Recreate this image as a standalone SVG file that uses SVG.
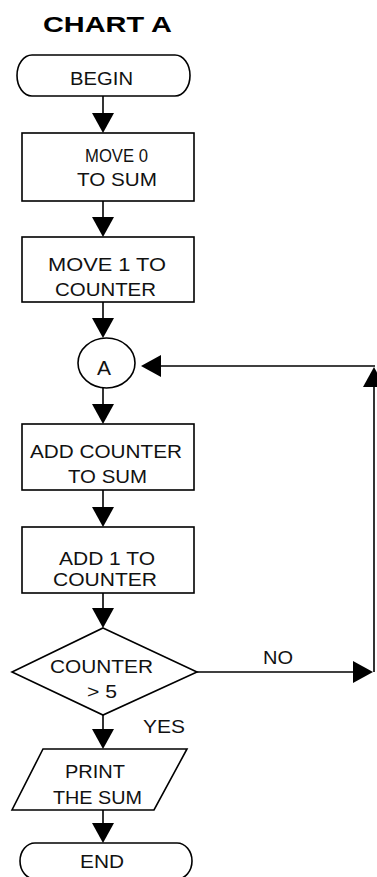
<svg xmlns="http://www.w3.org/2000/svg" width="377" height="877" viewBox="0 0 377 877">
<style>
.s{fill:#fff;stroke:#000;stroke-width:1.6}
.t{font-family:"Liberation Sans",Arial,sans-serif;font-size:19px;fill:#111}
.title{font-family:"Liberation Sans",Arial,sans-serif;font-size:22px;font-weight:bold;fill:#000}
.c{fill:none;stroke:#000;stroke-width:1.6}
</style>
<defs>
<marker id="ah" markerUnits="userSpaceOnUse" markerWidth="20" markerHeight="22" refX="17" refY="11" orient="auto">
<path d="M0,0 L20,11 L0,22 Z" fill="#000"/>
</marker>
</defs>
<rect width="377" height="877" fill="#fff"/>
<text class="title" x="43" y="32" textLength="129" lengthAdjust="spacingAndGlyphs">CHART A</text>
<g id="connectors">
<path class="c" d="M103,96 V130" marker-end="url(#ah)"/>
<path class="c" d="M103,201 V234" marker-end="url(#ah)"/>
<path class="c" d="M103,302 V335" marker-end="url(#ah)"/>
<path class="c" d="M103,388 V421" marker-end="url(#ah)"/>
<path class="c" d="M103,490 V524" marker-end="url(#ah)"/>
<path class="c" d="M103,593 V625" marker-end="url(#ah)"/>
<path class="c" d="M103,715 V746" marker-end="url(#ah)"/>
<path class="c" d="M103,810 V840" marker-end="url(#ah)"/>
<path class="c" d="M197,672 H370" marker-end="url(#ah)"/>
<path class="c" d="M374,672 V370" marker-end="url(#ah)"/>
<path class="c" d="M375,366 H144" marker-end="url(#ah)"/>
<text class="t" x="263" y="664" textLength="30" lengthAdjust="spacingAndGlyphs">NO</text>
<text class="t" x="143" y="733" textLength="42" lengthAdjust="spacingAndGlyphs">YES</text>
</g>
<g id="begin">
<path class="s" d="M32,55 H175 A15,20.5 0 0 1 175,96 H32 A15,20.5 0 0 1 32,55 Z"/>
<text class="t" x="70" y="85" textLength="63" lengthAdjust="spacingAndGlyphs">BEGIN</text>
</g>
<g id="move0">
<rect class="s" x="22" y="133" width="172" height="68"/>
<text class="t" x="85" y="162" textLength="63" lengthAdjust="spacingAndGlyphs">MOVE 0</text>
<text class="t" x="77" y="186" textLength="80" lengthAdjust="spacingAndGlyphs">TO SUM</text>
</g>
<g id="move1">
<rect class="s" x="22" y="237" width="172" height="65"/>
<text class="t" x="48" y="271" textLength="118" lengthAdjust="spacingAndGlyphs">MOVE 1 TO</text>
<text class="t" x="55" y="296" textLength="101" lengthAdjust="spacingAndGlyphs">COUNTER</text>
</g>
<g id="connectorA">
<ellipse class="s" cx="106.5" cy="363" rx="28.5" ry="25"/>
<text class="t" x="97" y="375" style="font-size:20px" textLength="14" lengthAdjust="spacingAndGlyphs">A</text>
</g>
<g id="addcounter">
<rect class="s" x="22" y="424" width="172" height="66"/>
<text class="t" x="30" y="458" textLength="152" lengthAdjust="spacingAndGlyphs">ADD COUNTER</text>
<text class="t" x="68" y="483" textLength="79" lengthAdjust="spacingAndGlyphs">TO SUM</text>
</g>
<g id="add1">
<rect class="s" x="22" y="527" width="172" height="66"/>
<text class="t" x="59" y="565" textLength="96" lengthAdjust="spacingAndGlyphs">ADD 1 TO</text>
<text class="t" x="53" y="586" textLength="104" lengthAdjust="spacingAndGlyphs">COUNTER</text>
</g>
<g id="decision">
<polygon class="s" points="103,628 197,672 103,715 12,672"/>
<text class="t" x="50" y="673" textLength="103" lengthAdjust="spacingAndGlyphs">COUNTER</text>
<text class="t" x="87" y="698" textLength="30" lengthAdjust="spacingAndGlyphs">&gt; 5</text>
</g>
<g id="print">
<polygon class="s" points="43,749 187,749 154,810 12,810"/>
<text class="t" x="65" y="778" textLength="60" lengthAdjust="spacingAndGlyphs">PRINT</text>
<text class="t" x="53" y="804" textLength="89" lengthAdjust="spacingAndGlyphs">THE SUM</text>
</g>
<g id="end">
<path class="s" d="M35,843 H177 A15,18 0 0 1 177,879 H35 A15,18 0 0 1 35,843 Z"/>
<text class="t" x="80" y="868" textLength="44" lengthAdjust="spacingAndGlyphs">END</text>
</g>
</svg>
